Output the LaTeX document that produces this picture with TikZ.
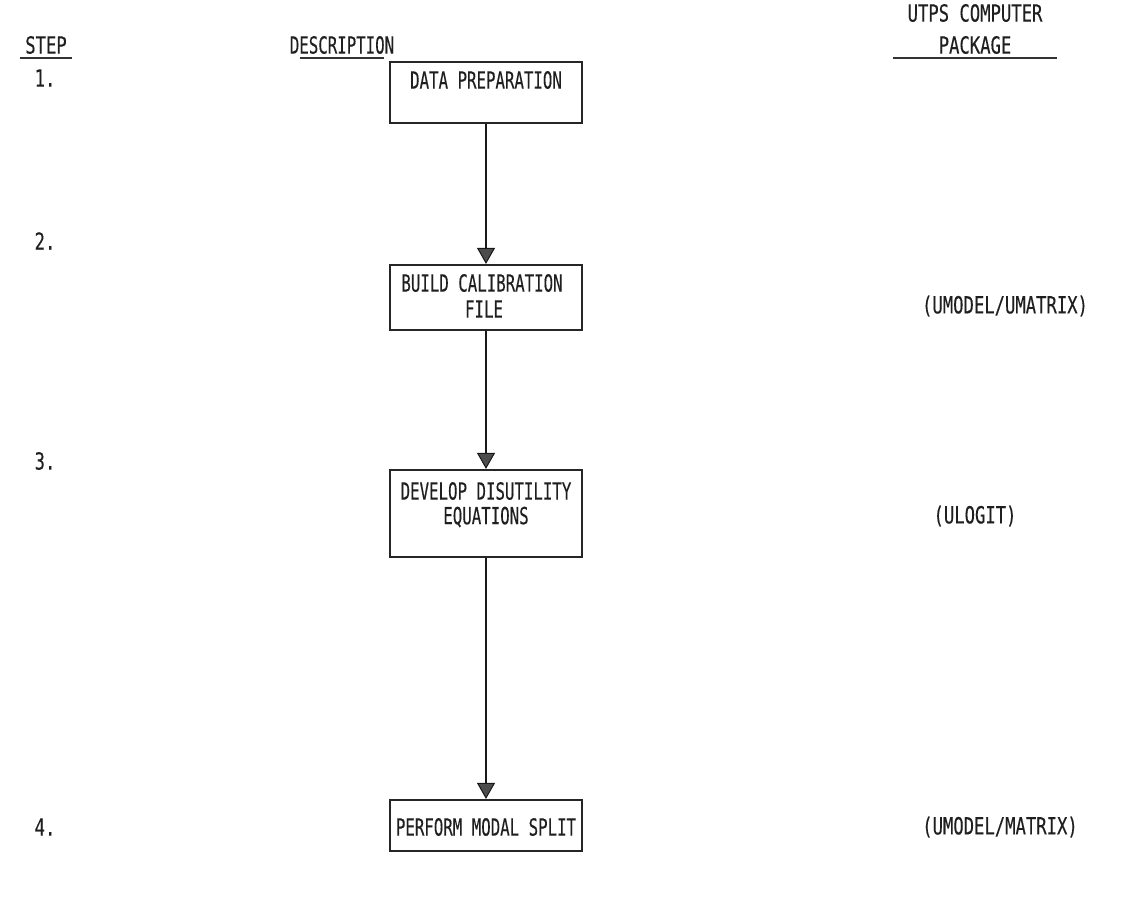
\documentclass[tikz,border=0pt]{standalone}
\usepackage{fontspec}
\setmainfont{DejaVu Sans Mono}[FakeBold=0.35]
\usetikzlibrary{arrows.meta}
\newcommand{\tx}[1]{\scalebox{0.82}[1.12]{#1}}
\newcommand{\bx}[1]{\scalebox{0.75}[1.12]{#1}}
\tikzset{
  txt/.style={font=\fontsize{21}{25}\selectfont, inner sep=0pt, anchor=center, text=black!88},
  stepbox/.style={draw=black!85, line width=2.2pt, minimum width=192pt, inner sep=0pt},
  flow/.style={line width=2.8pt, black!90, -{Triangle[width=18pt,length=16pt,fill=black!70,line width=1pt]}},
  uline/.style={line width=1.8pt, black!80}
}
\begin{document}
\begin{tikzpicture}[x=1pt,y=-1pt]
\useasboundingbox (0,0) rectangle (1145,900);
% headers
\node[txt] (hstep) at (46,45) {\tx{STEP}};
\draw[uline] (20,58) -- (72,58);
\node[txt] (hdesc) at (342,45) {\bx{DESCRIPTION}};
\draw[uline] (300,58) -- (384,58);
\node[txt] (hutps) at (975,13) {\tx{UTPS COMPUTER}};
\node[txt] (hpack) at (975,45) {\tx{PACKAGE}};
\draw[uline] (893,58) -- (1057,58);
% step numbers
\node[txt] (n1) at (45,78) {\tx{1.}};
\node[txt] (n2) at (45,241) {\tx{2.}};
\node[txt] (n3) at (45,461) {\tx{3.}};
\node[txt] (n4) at (45,827) {\tx{4.}};
% boxes
\node[stepbox, minimum height=61pt] (b1) at (486,92.5) {};
\node[txt] (t1) at (486,80) {\bx{DATA PREPARATION}};
\node[stepbox, minimum height=65pt] (b2) at (486,297.5) {};
\node[txt] (t2a) at (482,283) {\bx{BUILD CALIBRATION}};
\node[txt] (t2b) at (484,309) {\bx{FILE}};
\node[stepbox, minimum height=87pt] (b3) at (486,513.5) {};
\node[txt] (t3a) at (486,491) {\bx{DEVELOP DISUTILITY}};
\node[txt] (t3b) at (486,517) {\bx{EQUATIONS}};
\node[stepbox, minimum height=51pt] (b4) at (486,825.5) {};
\node[txt] (t4) at (486,827) {\bx{PERFORM MODAL SPLIT}};
% packages
\node[txt] (p2) at (1005,306) {\tx{(UMODEL/UMATRIX)}};
\node[txt] (p3) at (975,516) {\tx{(ULOGIT)}};
\node[txt] (p4) at (1000,827) {\tx{(UMODEL/MATRIX)}};
% arrows
\draw[flow] (b1.south) -- (b2.north);
\draw[flow] (b2.south) -- (b3.north);
\draw[flow] (b3.south) -- (b4.north);
\end{tikzpicture}
\end{document}
